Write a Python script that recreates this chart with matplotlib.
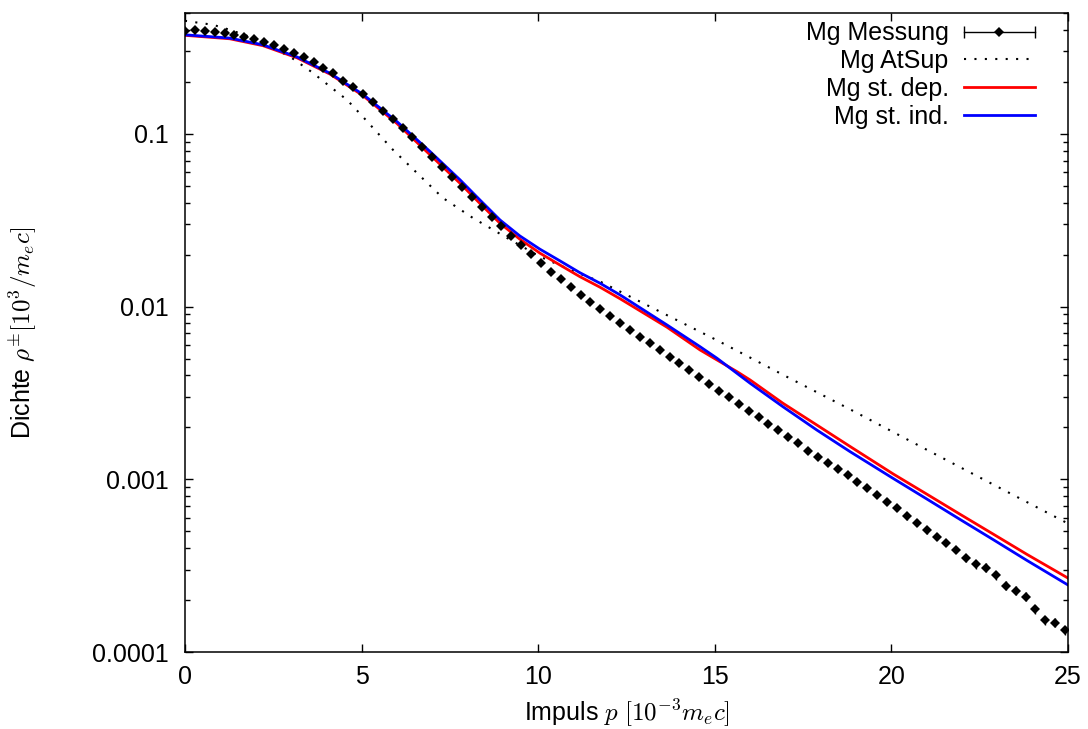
import numpy as np
import matplotlib
matplotlib.use("Agg")
import matplotlib.pyplot as plt
from matplotlib.lines import Line2D
from matplotlib.legend_handler import HandlerLine2D
from matplotlib.ticker import FixedLocator, FuncFormatter, NullLocator

plt.rcParams['font.family'] = ['Liberation Sans', 'DejaVu Sans']
plt.rcParams['mathtext.fontset'] = 'cm'
plt.rcParams['font.size'] = 18

#%% Daten (log10 der Dichte)

# Messung, Schrittweite 0.28
p_mess = np.round(np.arange(90) * 0.28, 2)
log_mess = [-0.404, -0.402, -0.404, -0.410, -0.418, -0.427, -0.437, -0.450, -0.468, -0.485,
            -0.508, -0.532, -0.555, -0.584, -0.617, -0.650, -0.694, -0.728, -0.769, -0.815,
            -0.866, -0.914, -0.966, -1.018, -1.076, -1.134, -1.192, -1.250, -1.307, -1.365,
            -1.422, -1.479, -1.535, -1.591, -1.643, -1.695, -1.748, -1.798, -1.840, -1.887,
            -1.933, -1.973, -2.014, -2.054, -2.093, -2.135, -2.174, -2.211, -2.251, -2.292,
            -2.327, -2.367, -2.408, -2.448, -2.487, -2.523, -2.564, -2.605, -2.639, -2.680,
            -2.715, -2.753, -2.790, -2.834, -2.869, -2.906, -2.940, -2.975, -3.014, -3.050,
            -3.091, -3.130, -3.166, -3.213, -3.251, -3.294, -3.332, -3.369, -3.409, -3.456,
            -3.490, -3.512, -3.554, -3.616, -3.645, -3.680, -3.751, -3.815, -3.830, -3.873]
rel_err = [0.005, 0.005, 0.005, 0.005, 0.005, 0.005, 0.005, 0.005, 0.005, 0.005,
           0.005, 0.005, 0.005, 0.005, 0.005, 0.005, 0.005, 0.005, 0.005, 0.005,
           0.005, 0.005, 0.005, 0.005, 0.005, 0.005, 0.005, 0.005, 0.005, 0.005,
           0.008, 0.008, 0.008, 0.008, 0.008, 0.008, 0.008, 0.008, 0.008, 0.008,
           0.015, 0.015, 0.015, 0.015, 0.015, 0.015, 0.015, 0.015, 0.015, 0.015,
           0.02, 0.02, 0.02, 0.02, 0.02, 0.02, 0.02, 0.02, 0.02, 0.02,
           0.03, 0.03, 0.03, 0.03, 0.03, 0.03, 0.03, 0.03, 0.03, 0.03,
           0.045, 0.045, 0.045, 0.045, 0.045, 0.045, 0.045, 0.045, 0.045, 0.045,
           0.06, 0.06, 0.06, 0.06, 0.06, 0.06, 0.06, 0.06, 0.06, 0.06]

# AtSup
p_atsup = [0, 0.79, 1.27, 1.76, 2.41, 2.97, 3.62, 4.11, 4.59, 5.04, 5.89, 7.30, 8.15,
           9.12, 10.05, 10.99, 11.75, 13.17, 15.06, 16.93, 18.83, 21.01, 22.88, 25.0]
log_atsup = [-0.346, -0.369, -0.398, -0.433, -0.497, -0.553, -0.647, -0.727, -0.804, -0.902,
             -1.093, -1.371, -1.487, -1.603, -1.711, -1.795, -1.855, -2.001, -2.195, -2.395,
             -2.595, -2.830, -3.030, -3.256]

# state independent
p_ind = [0, 1.27, 2.21, 3.17, 4.11, 5.04, 6.00, 6.94, 7.79, 8.35, 8.92, 9.48, 10.05, 10.62,
         11.18, 11.75, 12.32, 13.65, 14.58, 15.06, 16.0, 16.93, 17.89, 18.83, 20.05, 21.01,
         21.94, 22.88, 23.84, 25.0]
log_ind = [-0.427, -0.446, -0.485, -0.555, -0.650, -0.772, -0.929, -1.103, -1.267, -1.383,
           -1.499, -1.591, -1.668, -1.736, -1.804, -1.865, -1.933, -2.107, -2.232, -2.299,
           -2.444, -2.580, -2.715, -2.840, -2.995, -3.115, -3.232, -3.349, -3.470, -3.612]

# state dependent
p_dep = [0, 1.27, 2.21, 3.17, 4.11, 5.04, 6.00, 6.94, 7.79, 8.35, 8.92, 9.48, 10.05, 10.62,
         11.18, 11.75, 12.32, 13.65, 14.58, 15.06, 15.63, 16.0, 16.93, 17.89, 18.83, 20.05,
         21.01, 21.94, 22.88, 23.84, 25.0]
log_dep = [-0.430, -0.450, -0.490, -0.560, -0.655, -0.779, -0.940, -1.122, -1.287, -1.403,
           -1.518, -1.610, -1.691, -1.760, -1.827, -1.888, -1.955, -2.120, -2.251, -2.309,
           -2.377, -2.425, -2.560, -2.686, -2.810, -2.969, -3.087, -3.202, -3.317, -3.435,
           -3.572]

rho_mess = 10 ** np.array(log_mess)
err_mess = rho_mess * np.array(rel_err)

#%% Grafik
fig = plt.figure(figsize=(10.88, 7.29), dpi=100)
ax = fig.add_axes([0.170, 0.1056, 0.8116, 0.8765])

ax.errorbar(p_mess, rho_mess, yerr=err_mess, fmt='D', color='k', ms=5.5, mew=0,
            elinewidth=1, capsize=2.8, capthick=1, zorder=3)
ax.plot(p_atsup, 10 ** np.array(log_atsup), color='k', lw=1.5, ls=(0, (1, 4)))
ax.plot(p_dep, 10 ** np.array(log_dep), color='#ff0000', lw=2)
ax.plot(p_ind, 10 ** np.array(log_ind), color='#0000ff', lw=2)

ax.set_yscale('log')
ax.set_xlim(0, 25)
ax.set_ylim(1e-4, 0.5)

ax.xaxis.set_major_locator(FixedLocator([0, 5, 10, 15, 20, 25]))
ax.xaxis.set_minor_locator(NullLocator())
ax.yaxis.set_major_formatter(FuncFormatter(lambda v, pos: f"{v:g}"))
ax.tick_params(which='both', direction='in', top=True, right=True, width=1)
ax.tick_params(which='major', length=6)
ax.tick_params(which='minor', length=3.5)
ax.tick_params(axis='x', pad=9)
ax.tick_params(axis='y', pad=12)
for s in ax.spines.values():
    s.set_linewidth(1.1)

ax.set_xlabel(r'Impuls $p\ [10^{-3}m_ec]$')
ax.set_ylabel(r'Dichte $\rho^{\pm}[10^3/m_ec]$')
ax.xaxis.set_label_coords(0.5, -0.072)
ax.yaxis.set_label_coords(-0.165, 0.5)

# Legende im gnuplot-Stil
caps = Line2D([], [], color='k', lw=1, marker='|', ms=8, mew=1)
dia = Line2D([], [], color='k', ls='none', marker='D', ms=5, mew=0)
h_at = Line2D([], [], color='k', lw=1.5, ls=(0, (1, 4)))
h_dep = Line2D([], [], color='#ff0000', lw=2)
h_ind = Line2D([], [], color='#0000ff', lw=2)
ax.legend([(caps, dia), h_at, h_dep, h_ind],
          ['Mg Messung', 'Mg AtSup', 'Mg st. dep.', 'Mg st. ind.'],
          handler_map={caps: HandlerLine2D(numpoints=2, marker_pad=0)},
          loc='upper right', bbox_to_anchor=(0.9626, 0.987), frameon=False,
          markerfirst=False, borderpad=0, borderaxespad=0, labelspacing=0.15,
          handlelength=2.85, handletextpad=0.6, fontsize=18)

fig.savefig('out.png', dpi=100)
